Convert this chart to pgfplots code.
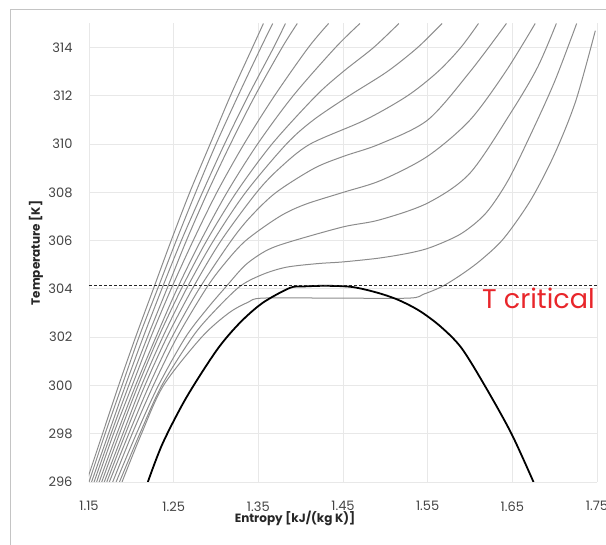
\documentclass[border=0pt]{standalone}
\usepackage{fontspec}
\setmainfont{Poppins}
\usepackage{pgfplots}
\pgfplotsset{compat=1.18}
\definecolor{isob}{HTML}{8C8C8C}
\definecolor{gridc}{HTML}{E8E8E8}
\definecolor{tcrit}{HTML}{E8262B}
\definecolor{framec}{HTML}{C4C4C4}
\definecolor{tickc}{HTML}{444444}
\pgfplotsset{isostyle/.style={draw=isob, line width=1pt, smooth, tension=0.5, mark=none}}
\begin{document}
\begin{tikzpicture}[x=1pt,y=1pt]
\useasboundingbox (0,0) rectangle (606,545);
\draw[framec, line width=1pt] (10,-5) -- (10,535) -- (615,535);
\begin{axis}[
  at={(89pt,63pt)}, anchor=south west,
  scale only axis, width=508pt, height=458.5pt,
  xmin=1.15, xmax=1.75, ymin=296, ymax=315,
  xtick={1.15,1.25,1.35,1.45,1.55,1.65,1.75},
  ytick={296,298,300,302,304,306,308,310,312,314},
  grid=major, major grid style={gridc, line width=0.9pt},
  axis line style={draw=none}, tick style={draw=none},
  /pgf/number format/assume math mode=true,
  xticklabel style={font=\fontsize{13}{13}\selectfont, text=tickc, yshift=-16pt,
    /pgf/number format/.cd, fixed, fixed zerofill, precision=2},
  yticklabel style={font=\fontsize{13}{13}\selectfont, text=tickc, xshift=-13pt,
    /pgf/number format/.cd, fixed, precision=0},
]
% C1 (subcritical)
\addplot[isostyle] coordinates {(1.189,296) (1.212,298) (1.238,300) (1.283,302) (1.315,303) (1.338,303.45) (1.355,303.62) (1.44,303.62) (1.528,303.62) (1.545,303.78) (1.567,304.1) (1.59,304.6) (1.613,305.2) (1.64,306.1) (1.672,307.7) (1.70,309.6) (1.725,311.8) (1.748,314.7)};
% C2
\addplot[isostyle] coordinates {(1.186,296) (1.210,298) (1.236,300) (1.272,302) (1.296,303) (1.328,304.1) (1.355,304.6) (1.383,304.9) (1.42,305.05) (1.45,305.12) (1.493,305.28) (1.53,305.5) (1.555,305.74) (1.59,306.3) (1.619,307.15) (1.645,308.5) (1.673,310.5) (1.70,312.6) (1.726,315)};
% C3
\addplot[isostyle] coordinates {(1.182,296) (1.206,298) (1.232,300) (1.264,302) (1.29,303.2) (1.312,304.1) (1.335,305.0) (1.36,305.6) (1.387,305.95) (1.45,306.57) (1.493,306.86) (1.55,307.56) (1.60,308.8) (1.65,311.4) (1.68,313.2) (1.702,315)};
% C4
\addplot[isostyle] coordinates {(1.178,296) (1.201,298) (1.226,300) (1.254,302) (1.288,304) (1.309,305) (1.335,306) (1.375,307) (1.405,307.5) (1.45,308) (1.495,308.5) (1.55,309.5) (1.60,311) (1.642,313) (1.677,315)};
% C5
\addplot[isostyle] coordinates {(1.174,296) (1.197,298) (1.221,300) (1.248,302) (1.280,304) (1.318,306) (1.341,307) (1.371,308) (1.416,309) (1.451,309.5) (1.493,310) (1.55,311) (1.60,313) (1.643,315)};
% C6
\addplot[isostyle] coordinates {(1.171,296) (1.193,298) (1.216,300) (1.242,302) (1.272,304) (1.306,306) (1.348,308) (1.375,309) (1.411,310) (1.476,311) (1.526,312) (1.562,313) (1.589,314) (1.610,315)};
% C7
\addplot[isostyle] coordinates {(1.168,296) (1.190,298) (1.212,300) (1.237,302) (1.265,304) (1.297,306) (1.335,308) (1.383,310) (1.415,311) (1.457,312) (1.502,313) (1.538,314) (1.567,315)};
% C8
\addplot[isostyle] coordinates {(1.165,296) (1.186,298) (1.208,300) (1.232,302) (1.259,304) (1.289,306) (1.324,308) (1.366,310) (1.418,312) (1.450,313) (1.486,314) (1.516,315)};
% C9
\addplot[isostyle] coordinates {(1.162,296) (1.183,298) (1.205,300) (1.229,302) (1.254,304) (1.282,306) (1.313,308) (1.349,310) (1.391,312) (1.441,314) (1.470,315)};
% C10
\addplot[isostyle] coordinates {(1.159,296) (1.179,298) (1.201,300) (1.223,302) (1.247,304) (1.273,306) (1.301,308) (1.333,310) (1.369,312) (1.409,314) (1.433,315)};
% C11
\addplot[isostyle] coordinates {(1.156,296) (1.176,298) (1.197,300) (1.219,302) (1.242,304) (1.265,306) (1.290,308) (1.317,310) (1.346,312) (1.378,314) (1.396,315)};
% C12
\addplot[isostyle] coordinates {(1.153,296) (1.173,298) (1.193,300) (1.214,302) (1.236,304) (1.259,306) (1.284,308) (1.310,310) (1.338,312) (1.368,314) (1.382,315)};
% C13
\addplot[isostyle] coordinates {(1.150,296) (1.169,298) (1.189,300) (1.209,302) (1.231,304) (1.253,306) (1.276,308) (1.300,310) (1.326,312) (1.353,314) (1.367,315)};
% C14
\addplot[isostyle] coordinates {(1.147,296) (1.166,298) (1.185,300) (1.205,302) (1.226,304) (1.247,306) (1.269,308) (1.293,310) (1.317,312) (1.343,314) (1.356,315)};
% saturation dome
\addplot[black, line width=1.8pt, smooth, tension=0.5, mark=none] coordinates {(1.2195,296) (1.237,297.6) (1.265,299.5) (1.301,301.47) (1.328,302.59) (1.355,303.42) (1.387,304.04) (1.402,304.1) (1.43,304.13) (1.461,304.08) (1.49,303.85) (1.515,303.55) (1.54,303.1) (1.565,302.45) (1.59,301.55) (1.619,299.9) (1.649,298.0) (1.675,296)};
% critical temperature
\addplot[black!85, line width=1.2pt, dash pattern=on 3pt off 2pt, sharp plot, mark=none] coordinates {(1.15,304.13) (1.75,304.13)};
\coordinate (tc) at (axis cs:1.614,303.2);
\end{axis}
\node[anchor=base west, inner sep=0pt, text=tcrit, font=\fontsize{27}{27}\selectfont] at (tc) {T critical};
\node[anchor=base, inner sep=0pt, text=black!85, font=\fontsize{12}{12}\selectfont\bfseries] at (295,22) {Entropy [kJ/(kg K)]};
\node[anchor=center, rotate=90, inner sep=0pt, text=black!85, font=\fontsize{12}{12}\selectfont\bfseries] at (36,292) {Temperature [K]};
\end{tikzpicture}
\end{document}
